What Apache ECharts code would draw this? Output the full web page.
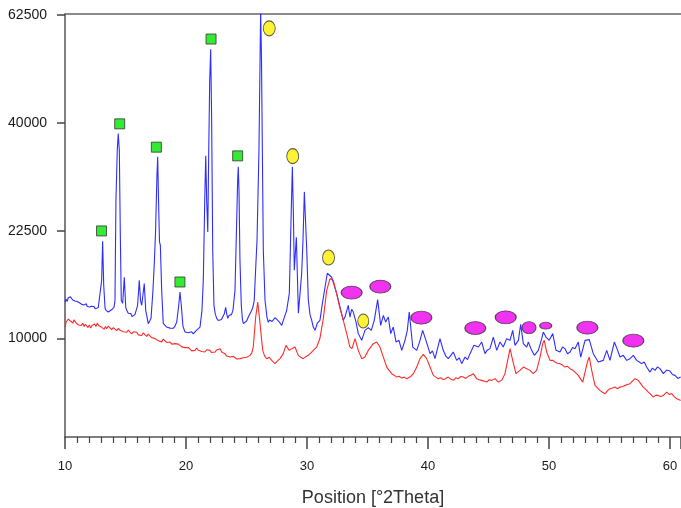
<!DOCTYPE html>
<html>
<head>
<meta charset="utf-8">
<script src="https://cdn.jsdelivr.net/npm/echarts@6/dist/echarts.min.js"></script>
<style>
  html, body { margin: 0; padding: 0; background: #fff; }
  #chart { width: 681px; height: 508px; }
</style>
</head>
<body>
<div id="chart"></div>
<script>
// Diffraction pattern, intensity in counts vs. position (2θ, degrees)
const blueTheta = [10.00,10.09,10.18,10.27,10.36,10.45,10.55,10.64,10.73,10.82,10.91,11.00,11.10,11.19,11.28,11.37,11.47,11.56,11.65,11.75,11.84,11.93,12.02,12.12,12.21,12.30,12.40,12.50,12.62,12.75,12.89,13.03,13.11,13.20,13.31,13.39,13.49,13.58,13.65,13.72,13.84,13.95,14.05,14.13,14.21,14.32,14.40,14.49,14.57,14.65,14.77,14.90,15.02,15.12,15.23,15.33,15.44,15.54,15.64,15.78,15.93,16.00,16.14,16.24,16.34,16.55,16.67,16.78,16.88,17.00,17.11,17.27,17.38,17.48,17.60,17.66,17.73,17.81,17.88,17.99,18.12,18.26,18.40,18.54,18.68,18.81,18.95,19.09,19.23,19.40,19.50,19.61,19.75,19.92,20.05,20.19,20.33,20.47,20.60,20.74,20.88,21.02,21.16,21.32,21.43,21.55,21.63,21.71,21.80,21.88,21.96,22.04,22.12,22.21,22.31,22.42,22.54,22.67,22.81,22.93,23.06,23.17,23.28,23.37,23.45,23.55,23.64,23.76,23.88,24.05,24.19,24.27,24.32,24.38,24.46,24.57,24.66,24.74,24.81,24.88,25.01,25.15,25.29,25.43,25.54,25.64,25.79,25.87,26.03,26.12,26.17,26.24,26.31,26.39,26.53,26.69,26.80,26.91,27.02,27.11,27.21,27.36,27.52,27.65,27.78,27.91,28.10,28.32,28.54,28.68,28.79,28.87,28.95,29.12,29.29,29.56,29.67,29.78,29.98,30.11,30.25,30.39,30.52,30.66,30.86,31.07,31.28,31.49,31.68,31.82,32.04,32.17,32.45,32.73,33.00,33.14,33.41,33.55,33.69,33.83,34.05,34.24,34.52,34.79,35.07,35.31,35.56,35.84,36.09,36.31,36.50,36.72,36.92,37.13,37.36,37.60,37.83,38.10,38.29,38.45,38.74,39.07,39.34,39.56,39.83,40.17,40.37,40.58,40.99,41.26,41.47,41.68,42.09,42.37,42.58,42.79,43.06,43.27,43.47,43.80,44.16,44.44,44.71,44.88,45.12,45.40,45.68,45.95,46.22,46.50,46.78,47.00,47.19,47.47,47.66,47.88,48.16,48.29,48.57,48.79,49.12,49.40,49.53,49.75,50.02,50.31,50.58,50.91,51.12,51.32,51.53,51.74,51.95,52.15,52.42,52.62,52.98,53.33,53.66,54.07,54.49,54.77,55.04,55.40,55.62,55.87,56.14,56.42,56.69,56.97,57.25,57.46,57.66,57.87,58.07,58.35,58.55,58.76,58.97,59.17,59.45,59.72,60.00,60.20,60.41,60.65,60.88];
const blueCounts = [13684,14000,13750,14150,13950,14250,14168,13900,14050,13800,14000,13750,13870,13600,13750,13450,13600,13350,13329,13500,13200,13400,13150,13300,13223,13050,13200,12950,12978,13100,13115,16142,21068,15560,13010,12798,12950,12620,12800,12590,12850,12700,13100,13870,26955,35111,38076,35111,22160,13870,13544,16500,13115,12750,12486,12300,12450,12150,12104,12350,12279,13329,16142,13870,13329,15755,12798,12100,11441,11700,11973,14984,18209,22160,30899,33955,26955,20975,20535,14984,11470,11300,11105,11250,11000,11150,10979,11200,11570,13329,14791,13329,11175,10621,10800,10550,10470,10650,10450,10621,10800,10950,11105,12798,16142,26955,34125,26955,22341,35111,48338,54808,40521,19873,13329,12400,11973,11750,11600,11850,11973,12450,13115,12400,11973,12250,12104,12350,12798,14984,23994,30088,32267,28500,18578,13329,11900,11441,11600,11272,11700,12104,12300,12798,13200,13870,18578,21205,35111,52532,63500,52532,35111,19873,13870,12100,11570,11800,11973,11650,11770,12050,11973,11700,11850,11272,11973,12798,14646,23994,32267,25453,17342,21612,12486,16978,21205,28234,19873,13870,12350,11770,11100,10785,11500,11770,13600,15329,16978,17015,16500,16533,14646,13147,11770,12104,13329,12104,12900,12620,11600,10470,9843,10785,11046,10785,11770,13948,11272,12279,11600,12104,10470,11105,9686,9843,8944,9843,10785,12620,9235,8944,9843,10785,9843,8656,8900,8230,10000,8944,8450,8230,8795,8087,8300,7815,8365,8150,8656,9388,9235,9686,8656,8944,9094,10149,8944,9686,9235,10000,9843,10785,9388,9843,11372,9541,9235,9686,8944,8510,8944,10000,10621,10149,9843,10470,8944,8795,9250,9094,8650,8795,9200,9094,9686,8365,9843,9908,8656,7946,8087,8944,8087,9686,9094,8365,8510,8087,8230,8510,8087,7950,7815,7950,7538,7140,7450,7274,7550,7410,7016,7300,7218,6950,6884,6650,6754];

const redTheta = [10.00,10.10,10.18,10.27,10.36,10.45,10.55,10.65,10.74,10.83,10.95,11.05,11.15,11.24,11.35,11.47,11.58,11.68,11.79,11.90,12.01,12.12,12.23,12.34,12.45,12.56,12.67,12.78,12.89,13.00,13.12,13.23,13.34,13.45,13.58,13.72,13.85,13.99,14.13,14.27,14.41,14.55,14.69,14.83,14.96,15.10,15.23,15.37,15.51,15.65,15.79,15.93,16.06,16.20,16.34,16.47,16.61,16.75,16.88,17.02,17.16,17.30,17.44,17.58,17.71,17.85,17.99,18.12,18.26,18.40,18.54,18.68,18.82,18.95,19.09,19.23,19.37,19.50,19.64,19.78,19.92,20.06,20.19,20.33,20.47,20.61,20.74,20.88,21.02,21.16,21.30,21.43,21.57,21.71,21.85,21.98,22.12,22.26,22.40,22.54,22.68,22.81,22.95,23.09,23.22,23.36,23.50,23.64,23.78,23.92,24.05,24.19,24.33,24.46,24.60,24.74,24.88,25.02,25.15,25.29,25.43,25.56,25.76,25.93,26.12,26.34,26.50,26.67,26.88,27.08,27.22,27.36,27.56,27.77,28.04,28.26,28.54,28.74,29.01,29.28,29.48,29.69,29.90,30.11,30.31,30.52,30.80,31.07,31.35,31.63,31.90,32.17,32.45,32.73,33.00,33.28,33.55,33.72,33.97,34.24,34.52,34.79,35.07,35.48,35.76,36.03,36.31,36.59,36.80,37.00,37.20,37.41,37.62,37.83,38.03,38.24,38.51,38.79,39.07,39.34,39.61,39.89,40.17,40.44,40.65,40.85,41.06,41.26,41.47,41.68,41.88,42.09,42.30,42.50,42.71,42.92,43.12,43.33,43.54,43.74,44.02,44.23,44.44,44.64,44.85,45.06,45.26,45.54,45.81,46.09,46.36,46.64,46.78,47.00,47.27,47.60,47.88,48.16,48.43,48.70,48.98,49.26,49.48,49.61,49.81,50.08,50.29,50.50,50.70,50.91,51.12,51.32,51.53,51.74,51.95,52.15,52.42,52.79,52.98,53.17,53.33,53.53,53.80,54.21,54.42,54.63,54.83,55.04,55.25,55.45,55.66,55.87,56.08,56.28,56.49,56.69,56.90,57.11,57.38,57.59,57.79,58.00,58.21,58.42,58.62,58.83,59.03,59.24,59.45,59.73,59.94,60.14,60.35,60.55,60.72,60.88];
const redCounts = [11105,11600,11420,11900,12043,11700,11842,11500,11820,11770,11450,11620,11300,11441,11250,11480,11150,11380,11204,11050,11300,11000,11250,11105,11400,11150,11500,11250,11372,11100,11280,10900,11150,10950,11200,11105,10850,11050,10950,10750,10980,10785,10950,10650,10785,10600,10800,10621,10450,10650,10470,10600,10350,10470,10300,10550,10404,10200,10420,10309,10100,10200,10000,10050,9800,9843,9700,9950,9843,9650,9780,9686,9500,9650,9541,9400,9500,9388,9250,9350,9182,9050,9200,9094,8900,9050,8944,9150,8950,9094,8850,9000,8795,9000,8850,8944,8750,8900,8795,8980,9150,9094,8800,8750,8656,8450,8500,8365,8250,8420,8365,8200,8300,8230,8150,8300,8230,8350,8500,8510,8700,9235,12104,13684,11441,8944,8450,8230,8350,8087,7950,7815,8050,8230,8656,9388,8944,9094,9235,8510,8350,8230,8400,8510,8700,8944,9235,10030,11973,14984,16343,16142,14612,12978,11770,10470,9235,9094,10000,8944,8230,8365,8944,9541,9686,9235,8365,7538,7250,7016,6900,6754,6820,6678,6750,6632,6754,7016,7538,8230,8595,8230,7538,6884,6750,6632,6700,6556,6650,6754,6600,6504,6700,6632,6800,6754,6650,6808,6900,7016,6632,6550,6504,6450,6378,6550,6504,6632,6378,6504,7016,8365,9094,8087,7016,7274,7538,7410,7274,7016,7274,8365,9541,9843,8795,8087,8100,7946,7850,7815,7700,7538,7600,7410,7300,7140,6884,6378,7140,7946,8365,7274,6135,5777,5650,5547,5750,5898,5950,6012,5900,6012,6050,6135,6200,6260,6450,6632,6504,6250,6012,5850,5658,5500,5315,5450,5430,5350,5430,5658,5500,5547,5350,5207,5150,5094];

// Phase markers: position (2θ) and height (counts)
const squareTheta = [13.02,14.52,17.55,19.50,22.07,24.27];
const squareCounts = [22480,39830,35634,15942,57068,34125];
const circleTheta = [26.88,28.82,31.78,34.65];
const circleCounts = [59463,34074,18931,11701];
const ovalTheta = [33.69,36.06,39.45,43.91,46.42,48.35,49.73,53.17,56.97];
const ovalCounts = [14726,15408,12043,11008,12074,11046,11242,11046,9815];

// Intensity tick labels (square-root scale)
const yTickLabels = [10000,22500,40000,62500];
const xTickLabels = [10,20,30,40,50,60];

// marker sizes (px)
const circleSizes = [[12,15],[12,15],[12,15],[11,14]];
const ovalSizes = [[21,13],[21,13],[21,13],[21,13],[21,13],[14,12],[12,7],[21,13],[21,13]];

const toSqrt = (xs, ys) => xs.map((x, i) => [x, Math.sqrt(ys[i])]);

const FONT = '"Liberation Sans", Arial, sans-serif';
const chart = echarts.init(document.getElementById('chart'), null, { renderer: 'canvas' });

chart.setOption({
  animation: false,
  backgroundColor: '#ffffff',
  grid: { left: 65, top: 14, right: 0, bottom: 71, containLabel: false, outerBoundsMode: 'none' },
  xAxis: [{
    type: 'value', min: 10, max: 60.91, interval: 10,
    name: 'Position [°2Theta]', nameLocation: 'middle', nameGap: 52,
    nameTextStyle: { fontFamily: FONT, fontSize: 18, color: '#333' },
    axisLine: { show: true, lineStyle: { color: '#555', width: 1.5 } },
    axisTick: { show: true, length: 12, lineStyle: { color: '#444', width: 1.5 } },
    minorTick: { show: true, splitNumber: 10, length: 6, lineStyle: { color: '#444', width: 1.2 } },
    axisLabel: {
      margin: 23, fontFamily: FONT, fontSize: 13, color: '#1a1a1a',
      customValues: xTickLabels
    },
    splitLine: { show: false }
  }, {
    type: 'value', position: 'top', min: 10, max: 60.91,
    axisLine: { show: true, lineStyle: { color: '#666', width: 1.5 } },
    axisTick: { show: false }, axisLabel: { show: false }, splitLine: { show: false }
  }],
  yAxis: {
    type: 'value', min: 54.4, max: 250.5,
    axisLine: { show: true, lineStyle: { color: '#555', width: 1.5 } },
    axisTick: { show: true, length: 8, lineStyle: { color: '#444', width: 1.5 },
      customValues: yTickLabels.map(Math.sqrt) },
    axisLabel: {
      margin: 18, fontFamily: FONT, fontSize: 14, color: '#1a1a1a',
      customValues: yTickLabels.map(Math.sqrt),
      formatter: v => String(Math.round(v * v))
    },
    splitLine: { show: false }
  },
  series: [
    {
      type: 'line', data: toSqrt(blueTheta, blueCounts), showSymbol: false, clip: true,
      lineStyle: { color: '#2d2dff', width: 1.1 }, z: 2
    },
    {
      type: 'line', data: toSqrt(redTheta, redCounts), showSymbol: false, clip: true,
      lineStyle: { color: '#ff2a2a', width: 1.1 }, z: 3
    },
    {
      type: 'scatter', data: toSqrt(squareTheta, squareCounts), symbol: 'rect', symbolSize: 10,
      itemStyle: { color: '#00e600', borderColor: '#333', borderWidth: 1 }, z: 5
    },
    {
      type: 'scatter', data: toSqrt(circleTheta, circleCounts), symbol: 'circle',
      symbolSize: (v, p) => circleSizes[p.dataIndex],
      itemStyle: { color: '#ffee00', borderColor: '#333', borderWidth: 1 }, z: 5
    },
    {
      type: 'scatter', data: toSqrt(ovalTheta, ovalCounts), symbol: 'circle',
      symbolSize: (v, p) => ovalSizes[p.dataIndex],
      itemStyle: { color: '#ee00ee', borderColor: '#333', borderWidth: 1 }, z: 5
    }
  ]
});
</script>
</body>
</html>
